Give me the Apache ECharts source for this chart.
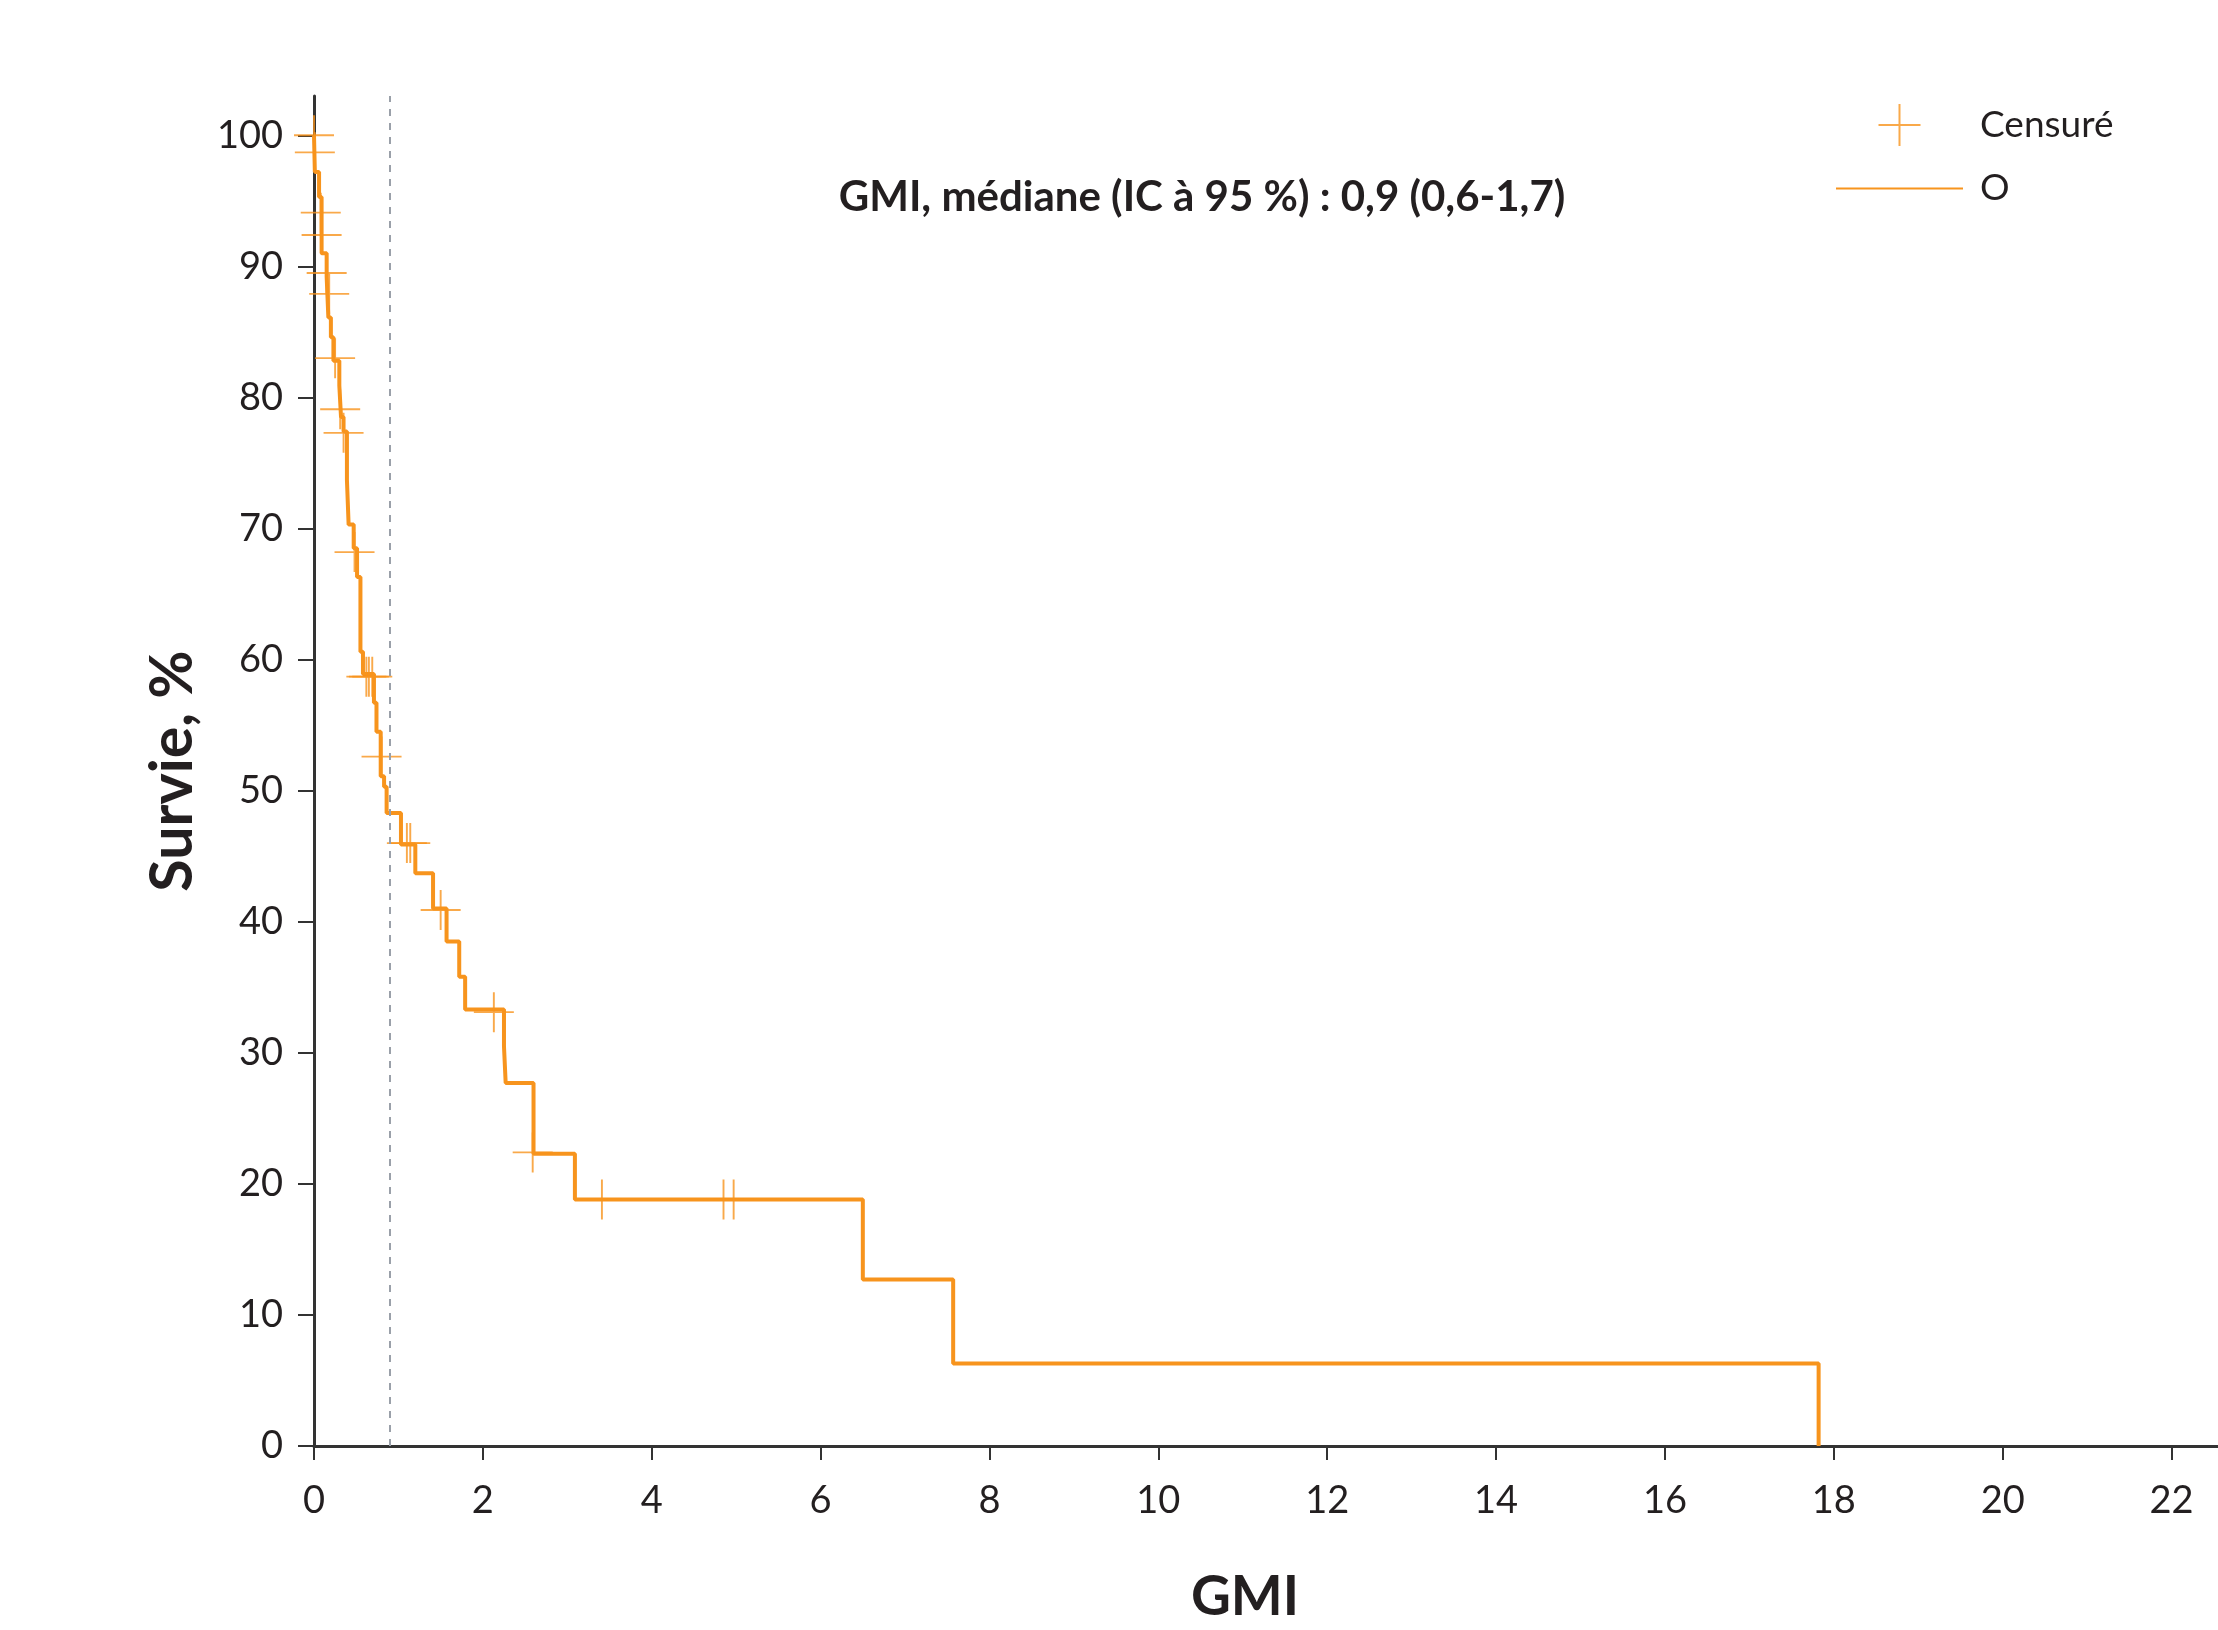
<!DOCTYPE html>
<html>
<head>
<meta charset="utf-8">
<title>GMI</title>
<script src="https://cdn.jsdelivr.net/npm/echarts@6/dist/echarts.min.js"></script>
<style>
    html, body { margin: 0; padding: 0; background: #ffffff; }
    #chart { width: 2218px; height: 1630px; }
</style>
</head>
<body>
<div id="chart"></div>
<script>
// Kaplan-Meier steps: survival (%) from each time onward
const stepTimes = [0, 0.01, 0.06, 0.09, 0.15, 0.17, 0.20, 0.23, 0.30, 0.32, 0.35, 0.39, 0.41, 0.47, 0.51, 0.55, 0.58, 0.71, 0.74, 0.79, 0.83, 0.86, 1.03, 1.20, 1.41, 1.57, 1.72, 1.79, 2.25, 2.27, 2.60, 3.09, 6.50, 7.57, 17.82];
const stepValues = [100, 97.2, 95.3, 91.0, 89.2, 86.1, 84.6, 82.8, 80.9, 78.5, 77.4, 73.7, 70.3, 68.5, 66.3, 60.6, 58.9, 56.7, 54.5, 51.1, 50.3, 48.3, 45.9, 43.7, 41.0, 38.5, 35.8, 33.3, 30.5, 27.7, 22.3, 18.8, 12.7, 6.3, 0];

// censored observations
const censorTimes = [0, 0.01, 0.08, 0.09, 0.15, 0.18, 0.25, 0.31, 0.35, 0.48, 0.62, 0.65, 0.69, 0.80, 1.10, 1.14, 1.50, 2.13, 2.59, 3.41, 4.85, 4.97];
const censorValues = [100, 98.7, 94.1, 92.4, 89.5, 87.9, 83.0, 79.1, 77.3, 68.2, 58.7, 58.7, 58.7, 52.6, 46.0, 46.0, 40.9, 33.1, 22.4, 18.8, 18.8, 18.8];

const medianTime = 0.9;

const xTicks = [0, 2, 4, 6, 8, 10, 12, 14, 16, 18, 20, 22];
const yTicks = [0, 10, 20, 30, 40, 50, 60, 70, 80, 90, 100];

const seriesNames = ["Censuré", "O"];
const titleText = "GMI, médiane (IC à 95 %) : 0,9 (0,6-1,7)";

const orange = "#f7941d";
const ink = "#231f20";
const font = "Lato";

const plusPath = "path://M0,20L42,20L42,22L0,22Z M20,0L22,0L22,42L20,42Z";
const linePath = "path://M0,0L127,0L127,2L0,2Z";

const chart = echarts.init(document.getElementById("chart"));

chart.setOption({
    animation: false,
    backgroundColor: "#ffffff",
    textStyle: {
        fontFamily: font
    },
    grid: {
        left: 314,
        right: 0,
        top: 96,
        bottom: 182,
        containLabel: false
    },
    legend: {
        orient: "vertical",
        left: 1836,
        top: 104,
        padding: 0,
        itemWidth: 127,
        itemHeight: 42,
        itemGap: 24,
        textStyle: {
            fontFamily: font,
            fontSize: 37,
            color: ink,
            padding: [0, 0, 0, 12]
        },
        data: [
            { name: seriesNames[0], icon: plusPath },
            { name: seriesNames[1], icon: linePath }
        ]
    },
    graphic: [
        {
            type: "text",
            style: {
                x: 1202,
                y: 197,
                text: titleText,
                align: "center",
                verticalAlign: "middle",
                fontFamily: font,
                fontWeight: "bold",
                fontSize: 42,
                fill: ink
            }
        }
    ],
    xAxis: {
        type: "value",
        min: 0,
        max: 22.55,
        name: "GMI",
        nameLocation: "middle",
        nameGap: 124,
        nameTextStyle: {
            fontFamily: font,
            fontWeight: "bold",
            fontSize: 55,
            color: ink,
            padding: [0, 42, 0, 0]
        },
        axisLine: {
            onZero: false,
            lineStyle: { color: "#333333", width: 3 }
        },
        axisTick: {
            customValues: xTicks,
            length: 14,
            lineStyle: { color: "#333333", width: 2 }
        },
        axisLabel: {
            customValues: xTicks,
            margin: 36,
            fontSize: 38,
            color: ink
        },
        splitLine: { show: false }
    },
    yAxis: {
        type: "value",
        min: 0,
        max: 103,
        name: "Survie, %",
        nameLocation: "middle",
        nameGap: 112,
        nameRotate: 90,
        nameTextStyle: {
            fontFamily: font,
            fontWeight: "bold",
            fontSize: 59,
            color: ink
        },
        axisLine: {
            show: true,
            onZero: false,
            lineStyle: { color: "#333333", width: 3 }
        },
        axisTick: {
            show: true,
            customValues: yTicks,
            length: 16,
            lineStyle: { color: "#333333", width: 2 }
        },
        axisLabel: {
            customValues: yTicks,
            margin: 31,
            fontSize: 38,
            color: ink,
            padding: [14, 0, 0, 0]
        },
        splitLine: { show: false }
    },
    series: [
        {
            name: seriesNames[1],
            type: "line",
            step: "end",
            symbol: "none",
            showSymbol: false,
            z: 2,
            color: orange,
            lineStyle: {
                color: orange,
                width: 4
            },
            data: stepTimes.map((t, i) => [t, stepValues[i]]),
            markLine: {
                silent: true,
                symbol: "none",
                label: { show: false },
                lineStyle: {
                    color: "#9aa0a9",
                    width: 2,
                    type: [7, 7]
                },
                data: [{ xAxis: medianTime }]
            }
        },
        {
            name: seriesNames[0],
            type: "scatter",
            symbol: plusPath,
            symbolSize: 40,
            z: 3,
            color: orange,
            itemStyle: {
                color: orange
            },
            data: censorTimes.map((t, i) => [t, censorValues[i]])
        }
    ]
});
</script>
</body>
</html>
